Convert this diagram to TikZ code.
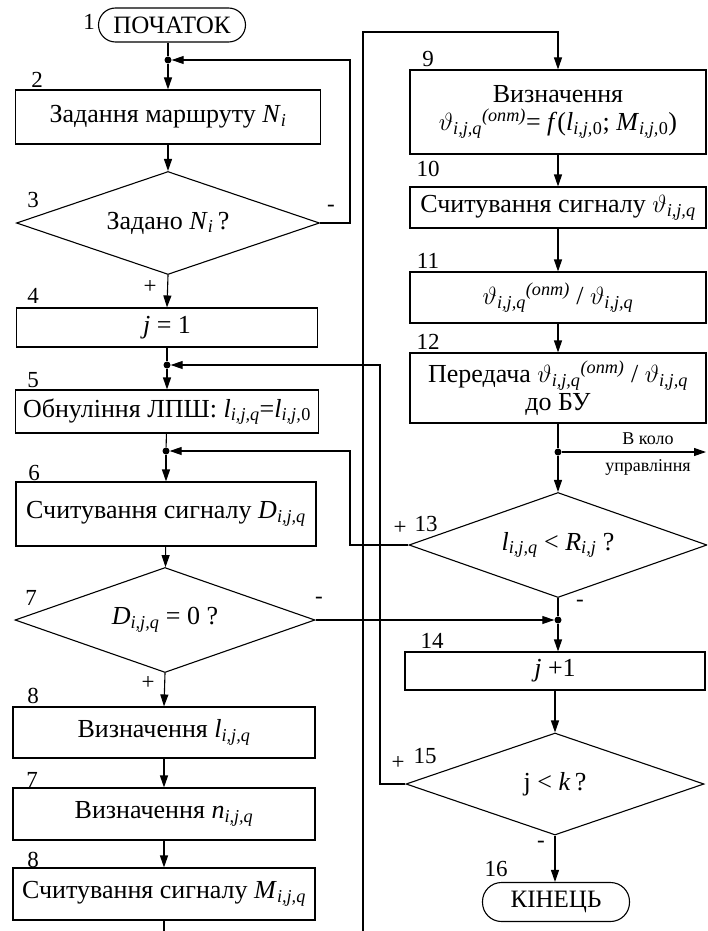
\documentclass[tikz,border=0pt]{standalone}
\usepackage{fontspec}
\setmainfont{Liberation Serif}
\usetikzlibrary{shapes.geometric,arrows.meta}
\newcommand{\sbi}[1]{\textsubscript{\itshape #1}}
\newcommand{\spi}[1]{\textsuperscript{\itshape #1}}
\newcommand{\vth}{$\vartheta$}
\begin{document}
\begin{tikzpicture}[x=1pt,y=-1pt,
  ln/.style={line width=1.1pt},
  arr/.style={ln,-{Triangle[length=12pt,width=8pt]}},
  box/.style={draw,ln,inner sep=2pt,align=center,font=\fontsize{26}{30}\selectfont},
  term/.style={draw,ln,rounded corners=17pt,inner xsep=8pt,inner ysep=2pt,font=\fontsize{25}{30}\selectfont},
  dec/.style={draw,ln,diamond,aspect=3,inner sep=0pt,font=\fontsize{26}{30}\selectfont},
  dot/.style={circle,fill,inner sep=0pt,minimum size=7pt},
  num/.style={inner sep=0pt,font=\fontsize{23}{26}\selectfont},
  sml/.style={inner sep=0pt,font=\fontsize{18}{21}\selectfont}
]
\useasboundingbox (0,0) rectangle (707,931);
\clip (0,0) rectangle (707,931);
% left column
\node[term,minimum width=147pt,minimum height=34pt] (start) at (172,25) {ПОЧАТОК};
\node[dot] (d1) at (168,60) {};
\node[box,minimum width=305pt,minimum height=54pt] (b2) at (168,117) {Задання маршруту \textit{N}\sbi{i}};
\node[dec,minimum width=303pt,minimum height=103pt] (c3) at (168,223) {Задано \textit{N}\sbi{i}\,?};
\node[box,minimum width=301pt,minimum height=39pt] (b4) at (167,327.5) {\textit{j} = 1};
\node[dot] (d5) at (167,365) {};
\node[box,minimum width=303pt,minimum height=43pt] (b5) at (167,411.5) {Обнуління ЛПШ: \textit{l}\sbi{i,j,q}=\textit{l}\sbi{i,j,}\textsubscript{0}};
\node[dot] (d6) at (166,451) {};
\node[box,minimum width=300pt,minimum height=64pt] (b6) at (166,514) {Считування сигналу \textit{D}\sbi{i,j,q}};
\node[dec,minimum width=300pt,minimum height=105pt] (c7) at (165,620) {\textit{D}\sbi{i,j,q} = 0 ?};
\node[box,minimum width=302pt,minimum height=51pt] (b8) at (164,732.5) {Визначення \textit{l}\sbi{i,j,q}};
\node[box,minimum width=302pt,minimum height=52pt] (b7b) at (164,814) {Визначення \textit{n}\sbi{i,j,q}};
\node[box,minimum width=302pt,minimum height=52pt] (b8b) at (164,894) {Считування сигналу \textit{M}\sbi{i,j,q}};
% right column
\node[box,minimum width=296pt,minimum height=84pt] (b9) at (558,112) {Визначення\\[-2pt] \vth\sbi{i,j,q}\spi{(опт)}= \textit{f}(\textit{l}\sbi{i,j,}\textsubscript{0}; \textit{M}\sbi{i,j,}\textsubscript{0})};
\node[box,minimum width=296pt,minimum height=41pt] (b10) at (558,207.5) {Считування сигналу \vth\sbi{i,j,q}};
\node[box,minimum width=296pt,minimum height=51pt] (b11) at (558,297.5) {\vth\sbi{i,j,q}\spi{(опт)} / \vth\sbi{i,j,q}};
\node[box,minimum width=296pt,minimum height=70pt] (b12) at (558,388) {Передача \vth\sbi{i,j,q}\spi{(опт)} / \vth\sbi{i,j,q}\\[-2pt] до БУ};
\node[dot] (d12) at (558,452) {};
\coordinate (out) at (706,452);
\node[dec,minimum width=298pt,minimum height=105pt] (c13) at (558,545) {\textit{l}\sbi{i,j,q} {<} \textit{R}\sbi{i,j} ?};
\node[dot] (d13) at (558,620) {};
\node[box,minimum width=300pt,minimum height=38pt] (b14) at (555,671) {\textit{j} +1};
\node[dec,minimum width=298pt,minimum height=102pt] (c15) at (555,784) {j {<} \textit{k}\,?};
\node[term,minimum width=147pt,minimum height=39pt,rounded corners=19pt] (end) at (556,902) {КІНЕЦЬ};
% connectors
\draw[ln] (start.south -| d1) -- (d1);
\draw[arr] (d1) -- (b2);
\draw[arr] (b2) -- (c3);
\draw[arr] (c3.east) -| (350,60) -- (d1);
\draw[arr] (c3.south) -- (b4.north);
\draw[ln] (b4) -- (d5);
\draw[arr] (d5) -- (b5);
\draw[ln] (b5) -- (d6);
\draw[arr] (d6) -- (b6);
\draw[arr] (b6) -- (c7);
\draw[arr] (c7.south) -- (b8.north);
\draw[arr] (b8) -- (b7b);
\draw[arr] (b7b) -- (b8b);
\draw[arr] (b8b.south) -- (164,960) -- (363,960) -- (363,32) -- (558,32) -- (b9.north);
\draw[arr] (b9) -- (b10);
\draw[arr] (b10) -- (b11);
\draw[arr] (b11) -- (b12);
\draw[ln] (b12) -- (d12);
\draw[arr] (d12) -- (out);
\draw[arr] (d12) -- (c13.north);
\draw[ln] (c13.south) -- (d13);
\draw[arr] (c7.east) -- (d13);
\draw[arr] (d13) -- (d13 |- b14.north);
\draw[arr] (b14.south -| c15.north) -- (c15.north);
\draw[arr] (c15.south) -- (c15.south |- end.north);
\draw[arr] (c13.west) -| (350,451) -- (d6);
\draw[arr] (c15.west) -| (380,365) -- (d5);
% labels
\node[num] (n1) at (89,22) {1};
\node[num] (n2) at (37,80) {2};
\node[num] (n3) at (33,200) {3};
\node[num] (m3) at (331,208) {-};
\node[num] (p3) at (150,287) {+};
\node[num] (n4) at (33,296) {4};
\node[num] (n5) at (33,380) {5};
\node[num] (n6) at (34,473) {6};
\node[num] (n7) at (31,598) {7};
\node[num] (m7) at (319,600) {-};
\node[num] (p7) at (148,683) {+};
\node[num] (n8) at (33,696) {8};
\node[num] (n7b) at (32,780) {7};
\node[num] (n8b) at (33,860) {8};
\node[num] (n9) at (428,59) {9};
\node[num] (n10) at (428,169) {10};
\node[num] (n11) at (428,261) {11};
\node[num] (n12) at (428,342) {12};
\node[sml] (t1) at (648,439) {В коло};
\node[sml] (t2) at (648,467) {управління};
\node[num] (p13) at (400,528) {+};
\node[num] (n13) at (426,524) {13};
\node[num] (m13) at (580,603) {-};
\node[num] (n14) at (432,641) {14};
\node[num] (p15) at (398,763) {+};
\node[num] (n15) at (425,756) {15};
\node[num] (m15) at (541,844) {-};
\node[num] (n16) at (496,869) {16};
\end{tikzpicture}
\end{document}
